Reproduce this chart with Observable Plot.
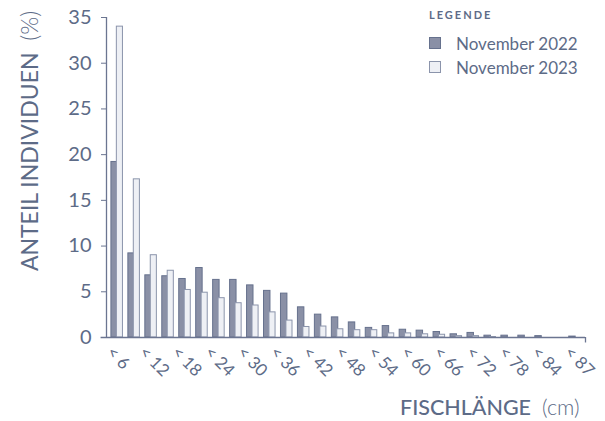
<!DOCTYPE html>
<html>
<head>
<meta charset="utf-8">
<script src="https://cdn.jsdelivr.net/npm/d3@7"></script>
<script src="https://cdn.jsdelivr.net/npm/@observablehq/plot@0.6"></script>
<style>
  html, body { margin: 0; padding: 0; background: #fff; }
  #wrap { position: relative; width: 605px; height: 421px; font-family: Lato, "Open Sans", sans-serif; color: #5d6b87; }
  #legend { position: absolute; left: 429px; top: 8px; }
  #legend .ttl { font-size: 11px; font-weight: 700; letter-spacing: 2px; margin-bottom: 10px; }
  #legend .row { display: flex; align-items: center; height: 24px; font-size: 17px; }
  #legend .sw { width: 10px; height: 10px; margin-right: 15px; border: 1px solid; }
  #xtitle { position: absolute; left: 400px; top: 394px; font-size: 21.5px; white-space: nowrap; }
  #ytitle { position: absolute; left: 29px; top: 141px; font-size: 23px; white-space: nowrap; transform: translate(-50%, -50%) rotate(-90deg); }
  .lt { font-weight: 300; }
</style>
</head>
<body>
<div id="wrap">
  <div id="chart"></div>
  <div id="legend"></div>
  <div id="xtitle"><span style="font-weight:500">FISCHLÄNGE</span>&nbsp; <span class="lt">(cm)</span></div>
  <div id="ytitle">ANTEIL INDIVIDUEN&nbsp; <span class="lt">(%)</span></div>
</div>
<script>
// Size classes (upper bound, cm), 3 cm steps
const classes = ["< 6","< 9","< 12","< 15","< 18","< 21","< 24","< 27","< 30","< 33","< 36","< 39","< 42","< 45","< 48","< 51","< 54","< 57","< 60","< 63","< 66","< 69","< 72","< 75","< 78","< 81","< 84","< 87"];
const nov2022 = [19.2, 9.2, 6.8, 6.7, 6.4, 7.6, 6.3, 6.3, 5.7, 5.1, 4.8, 3.3, 2.5, 2.2, 1.65, 1.05, 1.25, 0.85, 0.75, 0.6, 0.35, 0.5, 0.2, 0.2, 0.2, 0.15, 0, 0.1];
const nov2023 = [34.0, 17.3, 9.0, 7.3, 5.2, 4.9, 4.3, 3.75, 3.5, 2.75, 1.85, 1.15, 1.2, 0.9, 0.8, 0.8, 0.45, 0.45, 0.35, 0.3, 0.15, 0.15, 0.05, 0, 0, 0, 0, 0];
const seriesNames = ["November 2022", "November 2023"];
const xTickLabels = ["< 6","< 12","< 18","< 24","< 30","< 36","< 42","< 48","< 54","< 60","< 66","< 72","< 78","< 84","< 87"];
const yTicks = [0, 5, 10, 15, 20, 25, 30, 35];

const fills = ["#8a90a6", "#eef0f5"];
const strokes = ["#66718d", "#8b94ab"];

const rows = [];
classes.forEach((c, i) => {
  rows.push({i: i + 1, s: 0, v: nov2022[i]});
  rows.push({i: i + 1, s: 1, v: nov2023[i]});
});
const bars = rows.filter(d => d.v > 0);

// labels are spread evenly from the first to the last class
const n = classes.length;
const labelPos = xTickLabels.map((_, k) => 1 + k * (n - 1) / (xTickLabels.length - 1));
const labelMap = new Map(labelPos.map((p, k) => [p, xTickLabels[k]]));

const x0 = 0.35, x1 = 28.6;

const chart = Plot.plot({
  width: 605,
  height: 421,
  marginLeft: 106,
  marginRight: 20,
  marginTop: 17,
  marginBottom: 84,
  style: {fontFamily: "Lato, 'Open Sans', sans-serif", color: "#5d6b87", background: "transparent"},
  x: {type: "linear", domain: [x0, x1], axis: null},
  y: {domain: [0, 35], axis: null},
  marks: [
    Plot.axisY({ticks: yTicks, tickSize: 5, tickPadding: 10, fontSize: 20, label: null, stroke: "#6b7591"}),
    Plot.ruleX([x0], {stroke: "#6b7591", strokeWidth: 1.3}),
    Plot.rectY(bars.filter(d => d.s === 0), {x1: d => d.i - 0.36, x2: d => d.i + 0.02, y: "v", fill: fills[0], stroke: strokes[0], strokeWidth: 1}),
    Plot.rectY(bars.filter(d => d.s === 1), {x1: d => d.i - 0.04, x2: d => d.i + 0.32, y: "v", fill: fills[1], stroke: strokes[1], strokeWidth: 1}),
    Plot.ruleY([0], {x1: 0.03, x2: x1, stroke: "#6b7591", strokeWidth: 1.3}),
    Plot.ruleX([x1], {y1: 0, y2: -0.6, stroke: "#6b7591", strokeWidth: 1.3}),
    Plot.axisX({ticks: labelPos, tickFormat: d => labelMap.get(d), tickSize: 0, tickPadding: 12, tickRotate: 45, textAnchor: "start", fontSize: 17, dx: -8, label: null})
  ]
});
document.getElementById("chart").appendChild(chart);

const lg = document.getElementById("legend");
lg.innerHTML = '<div class="ttl">LEGENDE</div>' + seriesNames.map((s, k) =>
  `<div class="row"><span class="sw" style="background:${fills[k]};border-color:${strokes[k]}"></span>${s}</div>`).join("");
</script>
</body>
</html>
